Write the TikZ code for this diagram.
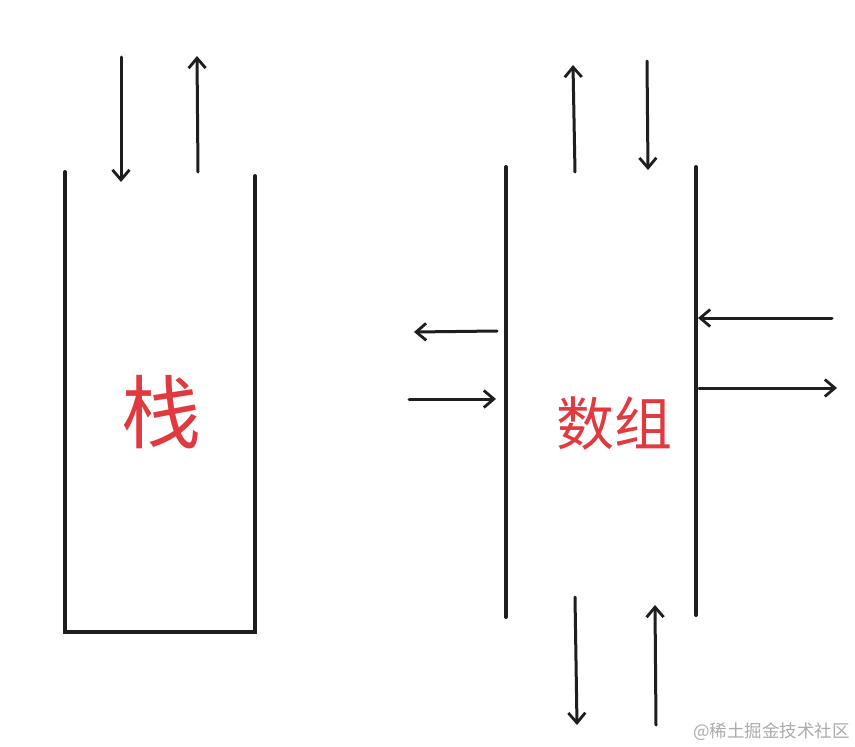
\documentclass[tikz,border=0pt]{standalone}
\usepackage{fontspec}
\newfontfamily\cjk{Noto Sans CJK SC}
\usetikzlibrary{arrows.meta}
\definecolor{inkred}{HTML}{E0393E}
\definecolor{ink}{HTML}{1E1E1E}
\begin{document}
\begin{tikzpicture}[x=1pt,y=-1pt,
  wall/.style={draw=ink,line width=4pt,line cap=round},
  arr/.style={draw=ink,line width=3pt,line cap=round,-{Straight Barb[length=10pt,width=17pt,line width=2.8pt]}},
  lbl/.style={text=inkred,font=\cjk,inner sep=0pt},
  wmark/.style={text=gray!65,font=\cjk\fontsize{17.5}{17.5}\selectfont,inner sep=0pt,anchor=east}]
\useasboundingbox[fill=white] (0,0) rectangle (855,747);
% stack
\coordinate (sTL) at (65,172);
\coordinate (sBL) at (65,632);
\coordinate (sTR) at (255,176);
\coordinate (sBR) at (255,632);
\draw[wall] (sTL) -- (sBL) -- (sBR) -- (sTR);
\coordinate (s1a) at (121,57); \coordinate (s1b) at (121,182);
\coordinate (s2a) at (198,172); \coordinate (s2b) at (197,56);
\draw[arr] (s1a) -- (s1b);
\draw[arr] (s2a) -- (s2b);
\node[lbl,font=\cjk\fontsize{80}{80}\selectfont] (stack) at (161,412) {栈};
% array
\coordinate (aL1) at (506,167); \coordinate (aL2) at (506,617);
\coordinate (aR1) at (696,167); \coordinate (aR2) at (696,615);
\draw[wall] (aL1) -- (aL2);
\draw[wall] (aR1) -- (aR2);
\coordinate (t1a) at (575,172); \coordinate (t1b) at (573,65);
\coordinate (t2a) at (647,61); \coordinate (t2b) at (648,170);
\draw[arr] (t1a) -- (t1b);
\draw[arr] (t2a) -- (t2b);
\coordinate (l1a) at (497,331); \coordinate (l1b) at (414,332);
\coordinate (l2a) at (409,399); \coordinate (l2b) at (496,399);
\draw[arr] (l1a) -- (l1b);
\draw[arr] (l2a) -- (l2b);
\coordinate (r1a) at (832,318); \coordinate (r1b) at (698,318);
\coordinate (r2a) at (699,388); \coordinate (r2b) at (837,388);
\draw[arr] (r1a) -- (r1b);
\draw[arr] (r2a) -- (r2b);
\coordinate (b1a) at (575,597); \coordinate (b1b) at (577,725);
\coordinate (b2a) at (656,725); \coordinate (b2b) at (655,605);
\draw[arr] (b1a) -- (b1b);
\draw[arr] (b2a) -- (b2b);
\node[lbl,font=\cjk\fontsize{58}{58}\selectfont] (array) at (614,424) {数组};
\node[wmark] (wm) at (850,732) {@稀土掘金技术社区};
\end{tikzpicture}
\end{document}
